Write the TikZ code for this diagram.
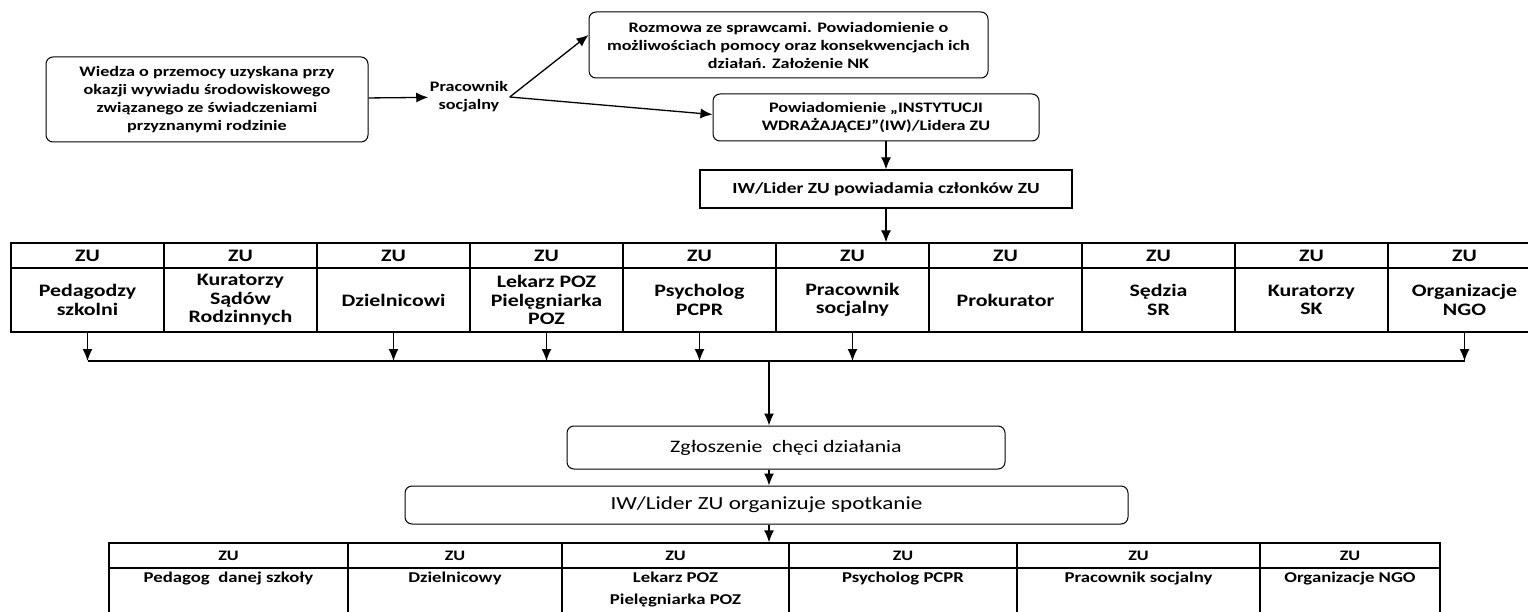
\documentclass[tikz,border=0pt]{standalone}
\usepackage{fontspec}
\setmainfont{Carlito}[FakeStretch=1.25]
\usetikzlibrary{positioning,arrows.meta}

\begin{document}
\begin{tikzpicture}[>={Latex[length=12pt,width=10pt]},x=1pt,y=-1pt,line width=1.3pt]
    \tikzstyle{every node}=[font=\bfseries\fontsize{14.5}{18}\selectfont]
    \tikzstyle{rbox}=[draw,line width=1pt,rounded corners=7pt,align=center,inner sep=0pt]
    \tikzstyle{cell}=[draw,align=center,inner sep=0pt,minimum width=153pt]
    \tikzstyle{duzy}=[font=\fontsize{18.5}{22}\selectfont]
    \useasboundingbox (0,0) rectangle (1528,612);
    \node[rbox,minimum width=322pt,minimum height=85pt] (wiedza) at (207,99.5) {Wiedza o przemocy uzyskana przy\\okazji wywiadu środowiskowego\\związanego ze świadczeniami\\przyznanymi rodzinie};
    \node[align=center,inner sep=1pt] (prac) at (469,97) {Pracownik\\socjalny};
    \node[rbox,minimum width=399pt,minimum height=66pt] (rozmowa) at (788.5,45) {Rozmowa ze sprawcami. Powiadomienie o\\możliwościach pomocy oraz konsekwencjach ich\\działań. Założenie NK};
    \node[rbox,minimum width=326pt,minimum height=47pt] (powiad) at (876,117.5) {Powiadomienie „INSTYTUCJI\\WDRAŻAJĄCEJ”(IW)/Lidera ZU};
    \node[draw,minimum width=372pt,minimum height=38pt,font=\bfseries\fontsize{15.5}{18}\selectfont] (lider) at (886,189) {IW/Lider ZU powiadamia członków ZU};
    \draw[->] (wiedza) -- (prac);
    \draw[->] (prac.east) -- ([yshift=10pt]rozmowa.west);
    \draw[->] (prac.east) -- ([yshift=3pt]powiad.west);
    \draw[->] (lider.north |- powiad.south) -- (lider);
    \foreach \t [count=\i from 0] in {{Pedagodzy\\szkolni},{Kuratorzy\\Sądów\\Rodzinnych},Dzielnicowi,{Lekarz POZ\\Pielęgniarka\\POZ},{Psycholog\\PCPR},{Pracownik\\socjalny},Prokurator,{Sędzia\\SR},{Kuratorzy\\SK},{Organizacje\\NGO}}
    {
        \node[cell,minimum height=25pt,font=\bfseries\fontsize{17.5}{18.5}\selectfont] (zu\i) at ({87.5+153*\i},255.5) {ZU};
        \node[cell,minimum height=64pt,font=\bfseries\fontsize{17.5}{18.5}\selectfont] (czl\i) at ({87.5+153*\i},300) {\t};
    }
    \draw[->] (lider) -- (lider |- zu5.north);
    \coordinate (zbior) at (769,361);
    \foreach \i in {0,2,3,4,5,9}
        \draw[->] (czl\i.south) -- (czl\i.south |- zbior);
    \draw (czl0.south |- zbior) -- (czl9.south |- zbior);
    \node[rbox,font=\fontsize{17.5}{22}\selectfont,minimum width=438pt,minimum height=43pt] (zgl) at (786,447.5) {Zgłoszenie\ \ chęci działania};
    \node[rbox,duzy,minimum width=723pt,minimum height=38pt] (spot) at (766.5,505) {IW/Lider ZU organizuje spotkanie};
    \draw[->] (zbior) -- (zbior |- zgl.north);
    \draw[->] (zbior |- zgl.south) -- (zbior |- spot.north);
    \foreach \a/\b/\t [count=\i] in {109/348/{Pedagog\ \ danej szkoły},348/562/Dzielnicowy,562/789/{Lekarz POZ\\Pielęgniarka POZ},789/1017/Psycholog PCPR,1017/1260/Pracownik socjalny,1260/1440/Organizacje NGO}
    {
        \node[cell,minimum width={\b-\a},minimum height=25pt] (zd\i) at ({(\a+\b)/2},555.5) {ZU};
        \node[cell,minimum width={\b-\a},minimum height=62pt] (os\i) at ({(\a+\b)/2},599) {};
        \node[align=center,font=\bfseries\fontsize{15}{22}\selectfont,below=1pt] (tx\i) at (os\i.north) {\t};
    }
    \draw[->] (zbior |- spot.south) -- (zbior |- zd3.north);
\end{tikzpicture}
\end{document}
